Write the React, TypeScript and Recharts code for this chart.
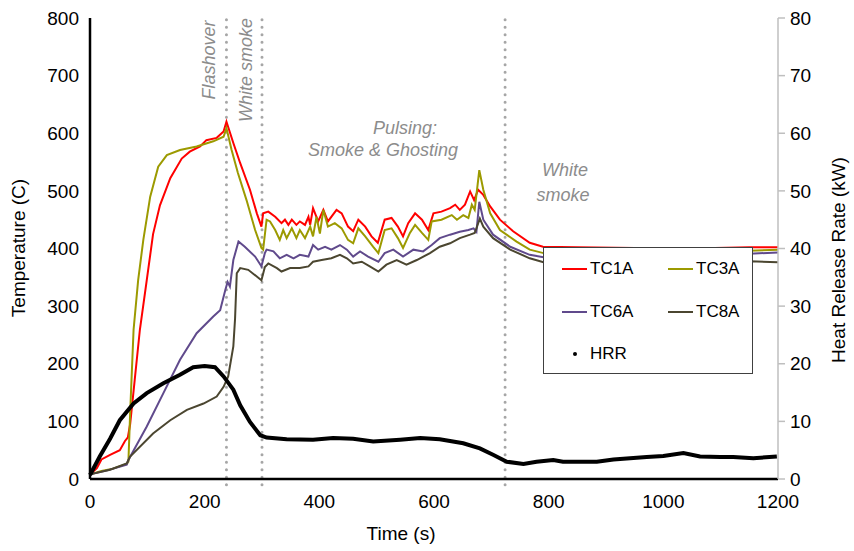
import React from 'react'
import { LineChart, Line, XAxis, YAxis, ReferenceLine } from 'recharts'

// [time (s), value]
const tc1a: [number, number][] = [
  [0, 8], [12, 19], [20, 34], [35, 42], [52, 50], [61, 66], [66, 72], [70, 95], [78, 172], [87, 259], [99, 345],
  [110, 425], [122, 475], [140, 522], [160, 556], [174, 568], [192, 577], [203, 588], [221, 592], [233, 603],
  [238, 620], [250, 583], [262, 548], [279, 502], [291, 461], [299, 438], [302, 461], [311, 464], [323, 455],
  [334, 444], [340, 450], [346, 441], [352, 450], [360, 441], [366, 447], [375, 441], [381, 455], [384, 441],
  [389, 470], [398, 447], [407, 467], [415, 447], [430, 467], [439, 461], [450, 438], [459, 430], [468, 450],
  [480, 438], [491, 421], [502, 410], [514, 450], [526, 453], [537, 438], [546, 421], [555, 444], [567, 461],
  [579, 450], [590, 432], [599, 461], [613, 464], [628, 470], [637, 476], [645, 467], [654, 476], [663, 499],
  [670, 484], [677, 502], [686, 493], [698, 473], [715, 450], [738, 430], [767, 410], [790, 403], [850, 402],
  [950, 401], [1050, 400], [1150, 402], [1200, 402],
]

const tc3a: [number, number][] = [
  [0, 8], [20, 14], [40, 18], [64, 26], [67, 30], [70, 114], [76, 259], [84, 345], [93, 415], [105, 490],
  [119, 542], [134, 562], [157, 571], [186, 577], [215, 586], [233, 594], [238, 609], [247, 571], [258, 531],
  [273, 484], [288, 432], [299, 401], [302, 398], [308, 450], [314, 447], [323, 432], [331, 415], [337, 432],
  [343, 418], [352, 435], [360, 418], [366, 432], [375, 418], [384, 438], [389, 421], [395, 455], [401, 426],
  [407, 467], [415, 438], [427, 444], [439, 435], [450, 415], [459, 409], [468, 435], [480, 421], [494, 403],
  [503, 392], [514, 432], [526, 435], [537, 418], [546, 401], [558, 427], [567, 441], [579, 427], [590, 415],
  [596, 447], [613, 450], [631, 458], [640, 450], [651, 458], [660, 453], [666, 476], [671, 467], [679, 536],
  [686, 502], [698, 461], [715, 432], [744, 412], [767, 398], [791, 392], [850, 390], [950, 390], [1050, 392],
  [1150, 396], [1200, 398],
]

const tc6a: [number, number][] = [
  [0, 8], [30, 15], [64, 25], [67, 33], [99, 91], [128, 149], [157, 207], [186, 253], [215, 282], [227, 293],
  [236, 328], [240, 342], [244, 334], [250, 380], [259, 412], [270, 403], [288, 386], [299, 369], [305, 392],
  [308, 398], [320, 395], [331, 383], [343, 389], [355, 383], [366, 389], [381, 386], [389, 406], [398, 398],
  [410, 403], [421, 398], [436, 406], [448, 398], [459, 386], [471, 395], [485, 386], [503, 377], [514, 392],
  [529, 398], [546, 386], [564, 398], [581, 395], [596, 406], [610, 418], [628, 424], [645, 429], [660, 432],
  [669, 435], [674, 429], [679, 481], [686, 450], [703, 424], [733, 403], [767, 389], [791, 385], [850, 385],
  [950, 386], [1050, 388], [1150, 391], [1200, 393],
]

const tc8a: [number, number][] = [
  [0, 8], [35, 16], [64, 27], [70, 39], [110, 79], [140, 102], [169, 120], [198, 131], [221, 143], [233, 160],
  [241, 178], [250, 230], [253, 278], [256, 357], [262, 366], [276, 363], [299, 345], [305, 368], [311, 374],
  [326, 366], [334, 360], [349, 366], [366, 366], [381, 369], [389, 377], [404, 380], [421, 383], [436, 389],
  [448, 383], [459, 374], [474, 377], [488, 369], [503, 360], [517, 372], [535, 380], [552, 372], [570, 380],
  [593, 392], [610, 403], [628, 409], [645, 418], [663, 424], [671, 427], [674, 435], [680, 452], [686, 438],
  [703, 418], [733, 398], [767, 383], [791, 376], [850, 375], [950, 375], [1050, 376], [1150, 378], [1200, 376],
]

// heat release rate, kW
const hrr: [number, number][] = [
  [0, 0.7], [17, 3.9], [35, 7.0], [52, 10.2], [76, 13.1], [99, 14.9], [128, 16.6], [157, 18.1], [180, 19.4],
  [200, 19.6], [218, 19.4], [233, 17.8], [250, 15.5], [262, 12.8], [279, 9.9], [297, 7.6], [308, 7.2],
  [343, 6.9], [389, 6.8], [424, 7.1], [459, 7.0], [494, 6.5], [541, 6.8], [576, 7.1], [610, 6.9], [651, 6.2],
  [680, 5.3], [703, 4.2], [727, 3.0], [756, 2.6], [779, 3.0], [808, 3.3], [825, 3.0], [884, 3.0], [913, 3.4],
  [971, 3.8], [1000, 4.0], [1035, 4.5], [1064, 3.9], [1099, 3.8], [1122, 3.8], [1157, 3.6], [1198, 3.9],
]

const eventTimes = [238, 300, 724]
const xTicks = [0, 200, 400, 600, 800, 1000, 1200]
const tempTicks = [0, 100, 200, 300, 400, 500, 600, 700, 800]
const hrrTicks = [0, 10, 20, 30, 40, 50, 60, 70, 80]

const FONT = '"Liberation Sans", Arial, sans-serif'
const toRows = (pts: [number, number][]) => pts.map(([t, v]) => ({ t, v }))

const series = [
  { name: 'TC1A', data: tc1a, color: '#ff0000' },
  { name: 'TC3A', data: tc3a, color: '#9c9a00' },
  { name: 'TC6A', data: tc6a, color: '#604a8c' },
  { name: 'TC8A', data: tc8a, color: '#4b4630' },
]

function Note({ x, y, text, rotate }: { x: number; y: number; text: string; rotate?: boolean }) {
  return (
    <div
      style={{
        position: 'absolute', left: x, top: y, whiteSpace: 'nowrap',
        transform: `translate(-50%, -50%)${rotate ? ' rotate(-90deg)' : ''}`,
        fontFamily: FONT, fontStyle: 'italic', fontSize: 18, color: '#8c8c8c', lineHeight: 1,
      }}
    >
      {text}
    </div>
  )
}

function AxisTitle({ x, y, text }: { x: number; y: number; text: string }) {
  return (
    <div
      style={{
        position: 'absolute', left: x, top: y, whiteSpace: 'nowrap',
        transform: 'translate(-50%, -50%) rotate(-90deg)',
        fontFamily: FONT, fontSize: 19, color: '#000', lineHeight: 1,
      }}
    >
      {text}
    </div>
  )
}

export default function App() {
  const tickStyle = { fontSize: 19, fill: '#000', fontFamily: FONT }

  return (
    <div style={{ position: 'absolute', left: 0, top: 0, width: 854, height: 551, background: '#fff' }}>
      <LineChart width={854} height={551} margin={{ top: 18, right: 0, bottom: 0, left: 0 }}>
        <XAxis
          type="number" dataKey="t" domain={[0, 1200]} ticks={xTicks} height={72}
          axisLine={{ stroke: '#000', strokeWidth: 2.5 }} tickLine={false} tickSize={0} tickMargin={16}
          tick={tickStyle}
        />
        <YAxis
          yAxisId="left" domain={[0, 800]} ticks={tempTicks} width={90}
          axisLine={{ stroke: '#000', strokeWidth: 2.5 }} tickLine={false} tickSize={0} tickMargin={11}
          tick={tickStyle}
        />
        <YAxis
          yAxisId="right" orientation="right" domain={[0, 80]} ticks={hrrTicks} width={76}
          axisLine={{ stroke: '#bfbfbf', strokeWidth: 1.5 }} tickLine={{ stroke: '#bfbfbf', strokeWidth: 1.5 }}
          tickSize={7} tickMargin={5} tick={tickStyle}
        />
        {eventTimes.map((x) => (
          <ReferenceLine
            key={x} yAxisId="left" ifOverflow="visible"
            segment={[{ x, y: -10 }, { x, y: 800 }]}
            stroke="#a6a6a6" strokeWidth={3} strokeDasharray="0 7.5" strokeLinecap="round"
          />
        ))}
        {series.map((s) => (
          <Line
            key={s.name} yAxisId="left" data={toRows(s.data)} dataKey="v" name={s.name}
            stroke={s.color} strokeWidth={2} dot={false} isAnimationActive={false} type="linear"
          />
        ))}
        <Line
          yAxisId="right" data={toRows(hrr)} dataKey="v" name="HRR"
          stroke="#000" strokeWidth={4} dot={false} isAnimationActive={false} type="linear"
        />
      </LineChart>

      <AxisTitle x={18} y={248} text="Temperature (C)" />
      <AxisTitle x={838} y={260} text="Heat Release Rate (kW)" />
      <div style={{ position: 'absolute', left: 401, top: 533, transform: 'translate(-50%, -50%)', fontFamily: FONT, fontSize: 19, lineHeight: 1 }}>
        Time (s)
      </div>

      <Note x={209} y={60} text="Flashover" rotate />
      <Note x={246} y={70} text="White smoke" rotate />
      <Note x={405} y={128} text="Pulsing:" />
      <Note x={383} y={150} text="Smoke & Ghosting" />
      <Note x={565} y={170} text="White" />
      <Note x={563} y={195} text="smoke" />

      {/* Legend */}
      <div
        style={{
          position: 'absolute', left: 543, top: 247, width: 208, height: 125, background: '#fff',
          border: '1.5px solid #404040', fontFamily: FONT, fontSize: 17, color: '#000',
        }}
      >
        {series.map((s, i) => (
          <div
            key={s.name}
            style={{
              position: 'absolute', left: 18, top: i < 2 ? 10 : 53,
              marginLeft: i % 2 === 0 ? 0 : 106,
              display: 'flex', alignItems: 'center', height: 22,
            }}
          >
            <span style={{ width: 25, height: 2.5, background: s.color, marginRight: 3 }} />
            <span>{s.name}</span>
          </div>
        ))}
        <div style={{ position: 'absolute', left: 18, top: 95, display: 'flex', alignItems: 'center', height: 22 }}>
          <span style={{ width: 25, display: 'flex', justifyContent: 'center', marginRight: 3 }}>
            <span style={{ width: 4, height: 4, borderRadius: 2, background: '#000' }} />
          </span>
          <span>HRR</span>
        </div>
      </div>
    </div>
  )
}
